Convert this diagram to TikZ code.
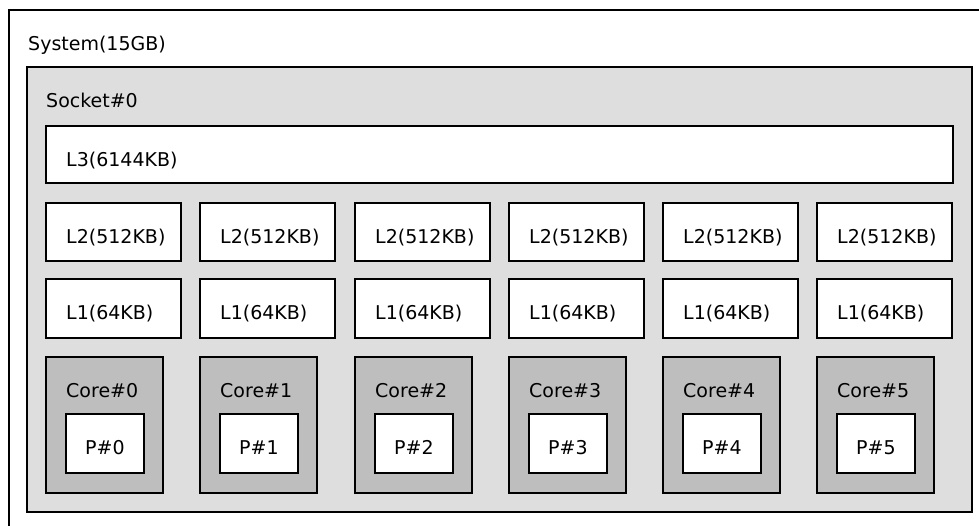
\documentclass[tikz,border=0pt]{standalone}
\usepackage{fontspec}
\setmainfont{DejaVu Sans}
\usetikzlibrary{calc}
\definecolor{socketgray}{HTML}{DEDEDE}
\definecolor{coregray}{HTML}{BEBEBE}
\tikzset{
  box/.style={draw=black, line width=1.5pt, rectangle, inner sep=0pt, outer sep=0pt, anchor=north west},
  whitebox/.style={box, fill=white},
  socketbox/.style={box, fill=socketgray},
  corebox/.style={box, fill=coregray},
  lbl/.style={anchor=base west, inner sep=0pt, font=\fontsize{19}{22}\selectfont}
}
\begin{document}
\begin{tikzpicture}[x=1pt,y=-1pt]
\useasboundingbox (0,0) rectangle (979,525);
\begin{scope}
\clip (0,0) rectangle (979,525);
\node[whitebox, minimum width=1000pt, minimum height=540pt] (sys) at (9,10) {};
\end{scope}
\node[lbl] (syslbl) at ($(sys.north west)+(19,40)$) {System(15GB)};
\node[socketbox, minimum width=945pt, minimum height=445pt] (sock) at (27,67) {};
\node[lbl] (socklbl) at ($(sock.north west)+(19,40)$) {Socket\#0};
\node[whitebox, minimum width=907pt, minimum height=57pt] (l3) at (46,126) {};
\node[lbl] (l3lbl) at ($(l3.north west)+(20,40)$) {L3(6144KB)};
\foreach \i/\xx in {0/46,1/200,2/355,3/509,4/663,5/817}{
  \node[whitebox, minimum width=135pt, minimum height=58pt] (l2\i) at (\xx,203) {};
  \node[lbl] (l2lbl\i) at ($(l2\i.north west)+(20,40)$) {L2(512KB)};
  \node[whitebox, minimum width=135pt, minimum height=59pt] (l1\i) at (\xx,279) {};
  \node[lbl] (l1lbl\i) at ($(l1\i.north west)+(20,40)$) {L1(64KB)};
  \node[corebox, minimum width=117pt, minimum height=136pt] (core\i) at (\xx,357) {};
  \node[lbl] (corelbl\i) at ($(core\i.north west)+(20,40)$) {Core\#\i};
  \node[whitebox, minimum width=78pt, minimum height=59pt] (pu\i) at ($(core\i.north west)+(20,57)$) {};
  \node[lbl] (pulbl\i) at ($(pu\i.north west)+(19,40)$) {P\#\i};
}
\end{tikzpicture}
\end{document}
